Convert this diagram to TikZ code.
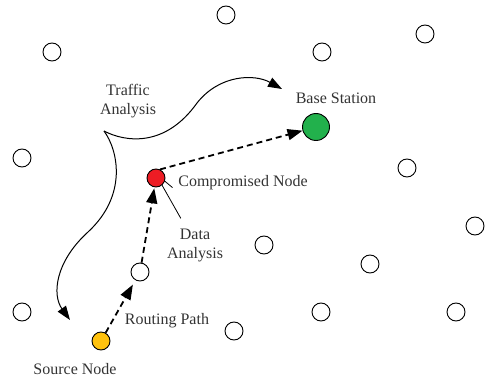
\documentclass[tikz,border=0pt]{standalone}
\usepackage{fontspec}
\setmainfont{Liberation Serif}
\usetikzlibrary{arrows.meta}
\definecolor{srcyellow}{HTML}{FFC20E}
\definecolor{comprred}{HTML}{ED1C24}
\definecolor{bsgreen}{HTML}{22B14C}
\definecolor{txtgray}{HTML}{333333}
\newcommand{\lbl}{\fontsize{16}{19}\selectfont}

\begin{document}
\begin{tikzpicture}[x=1pt,y=-1pt]
                        \tikzstyle{sensor}=[circle,draw,line width=0.9pt,minimum size=18pt,inner sep=0pt]
                        \tikzstyle{txt}=[font=\lbl,align=center,inner sep=1pt,text=txtgray]
                        \tikzstyle{datapath}=[line width=1.8pt,dash pattern=on 6pt off 4pt,-{Triangle[length=15pt,width=11pt]}]
                        \tikzstyle{flow}=[line width=1pt,-{Triangle[length=14pt,width=10pt]}]
                        \tikzstyle{leader}=[line width=0.8pt]
                        \useasboundingbox (0,0) rectangle (490,382);
                        \node[sensor] (s1) at (226,15) {};
                        \node[sensor] (s2) at (425,34) {};
                        \node[sensor] (s3) at (322,52) {};
                        \node[sensor] (s4) at (52,52) {};
                        \node[sensor] (s5) at (22,158) {};
                        \node[sensor] (s6) at (407,168) {};
                        \node[sensor] (s7) at (475,226) {};
                        \node[sensor] (s8) at (264,245) {};
                        \node[sensor] (s9) at (370,264) {};
                        \node[sensor] (s10) at (321,312) {};
                        \node[sensor] (s11) at (456,312) {};
                        \node[sensor] (s12) at (234,331) {};
                        \node[sensor] (s13) at (22,312) {};
                        \node[sensor] (hop) at (140,272) {};
                        \node[sensor,fill=comprred] (comp) at (156,178) {};
                        \node[sensor,fill=bsgreen,minimum size=27pt] (base) at (316,127) {};
                        \node[sensor,fill=srcyellow] (src) at (101,341) {};
                        \node[txt] (talbl) at (128,101) {Traffic\\Analysis};
                        \node[txt] (bslbl) at (336,98) {Base Station};
                        \node[txt] (cnlbl) at (243,183) {Compromised Node};
                        \node[txt] (dalbl) at (195,245) {Data\\Analysis};
                        \node[txt] (rplbl) at (167,321) {Routing Path};
                        \node[txt] (snlbl) at (75,369) {Source Node};
                        \coordinate (cusp) at (104,131);
                        \coordinate (tobase) at (282,89);
                        \coordinate (tosrc) at (70,320);
                        \draw[datapath,shorten >=5pt] (src) -- (hop);
                        \draw[datapath,shorten >=1pt] (hop) -- (comp);
                        \draw[datapath] (comp.65) -- (base);
                        \draw[flow] (cusp) .. controls (125,142) and (165,148) .. (197,103)
                                           .. controls (220,74) and (255,74) .. (tobase);
                        \draw[flow] (cusp) .. controls (118,150) and (128,195) .. (88,232)
                                           .. controls (55,262) and (52,295) .. (tosrc);
                        \draw[leader] (comp.-50) -- ([xshift=15pt,yshift=9pt]dalbl.north west);
                        \draw[leader,shorten >=6pt] (comp.-20) -- (cnlbl.south west);
                    \end{tikzpicture}
\end{document}
